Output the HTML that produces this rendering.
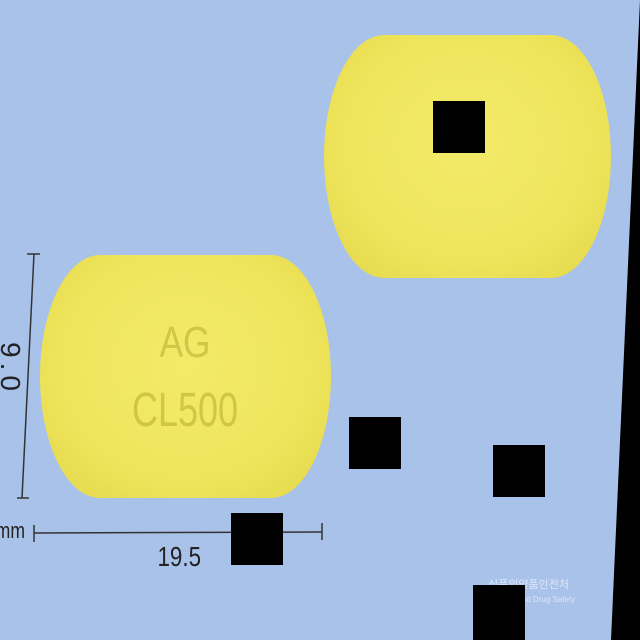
<!DOCTYPE html>
<html><head><meta charset="utf-8">
<style>
html,body{margin:0;padding:0;}
body{width:640px;height:640px;position:relative;overflow:hidden;background:#a9c2ea;font-family:"Liberation Sans","Noto Sans CJK KR",sans-serif;}
.pill{position:absolute;background:radial-gradient(ellipse at 50% 45%,#f3ea6a 0%,#efe55c 60%,#e2d648 100%);}
.sq{position:absolute;background:#000;}
</style></head><body>
<div class="pill" style="left:324px;top:35px;width:287px;height:243px;border-radius:60px/50%;"></div>
<div class="pill" style="left:40px;top:255px;width:291px;height:243px;border-radius:60px/50%;"></div>
<div style="position:absolute;left:115px;top:318px;width:140px;text-align:center;font-size:44px;color:rgba(175,165,40,0.5);transform:scaleX(0.8);">AG</div>
<div style="position:absolute;left:95px;top:383px;width:180px;text-align:center;font-size:48px;color:rgba(175,165,40,0.5);transform:scaleX(0.75);">CL500</div>
<svg width="640" height="640" style="position:absolute;left:0;top:0">
<g stroke="#333" stroke-width="1.5">
<line x1="34" y1="254" x2="22" y2="498"/>
<line x1="27" y1="254" x2="40" y2="254"/>
<line x1="17" y1="498" x2="29" y2="498"/>
<line x1="34" y1="533" x2="322" y2="532"/>
<line x1="34" y1="525" x2="34" y2="542"/>
<line x1="322" y1="523" x2="322" y2="540"/>
</g>
<polygon points="640,0 640,640 611,640" fill="#000"/>
</svg>
<div style="position:absolute;left:-20px;top:355px;width:60px;height:28px;line-height:28px;text-align:center;font-size:28px;letter-spacing:5px;color:#222;transform:rotate(90deg);">9.0</div>
<div style="position:absolute;left:-8px;top:518px;font-size:22px;color:#222;transform:scaleX(0.8);">mm</div>
<div style="position:absolute;left:152px;top:541px;font-size:28px;color:#222;transform:scaleX(0.8);">19.5</div>
<div style="position:absolute;left:488px;top:578px;font-size:11px;color:rgba(255,255,255,0.6);line-height:14px;">식품의약품안전처<br><span style="font-size:8px">of Food and Drug Safety</span></div>
<div class="sq" style="left:433px;top:101px;width:52px;height:52px;"></div>
<div class="sq" style="left:349px;top:417px;width:52px;height:52px;"></div>
<div class="sq" style="left:493px;top:445px;width:52px;height:52px;"></div>
<div class="sq" style="left:231px;top:513px;width:52px;height:52px;"></div>
<div class="sq" style="left:473px;top:585px;width:52px;height:55px;"></div>
</body></html>
